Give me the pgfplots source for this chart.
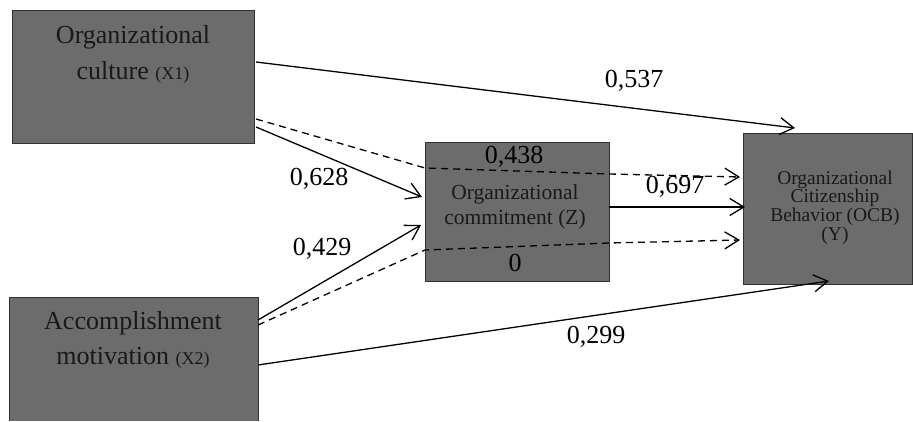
\documentclass[border=0pt]{standalone}
\usepackage{pgfplots}
\pgfplotsset{compat=1.18}
\usetikzlibrary{arrows.meta}
\usepackage{fontspec}
\setmainfont{Liberation Serif}
\definecolor{boxgray}{RGB}{108,108,108}
\definecolor{boxedge}{RGB}{50,50,50}
\definecolor{boxtext}{RGB}{25,25,25}
\tikzset{
  big/.style={font=\fontsize{26}{28}\selectfont},
  mid/.style={font=\fontsize{21.5}{23}\selectfont, text=boxtext},
  sml/.style={font=\fontsize{19.5}{21}\selectfont, text=boxtext},
  arr/.style={line width=1.3pt, -{Straight Barb[length=14pt,width=17pt,line width=1.3pt]}},
  dsh/.style={arr, dash pattern=on 7pt off 5pt},
}
\begin{document}
\begin{tikzpicture}
\begin{axis}[
  width=913pt, height=421pt, scale only axis,
  xmin=0, xmax=913, ymin=0, ymax=421,
  hide axis,
]
\addplot[draw=none] coordinates {(0,0) (913,421)};
% boxes
\addplot[fill=boxgray, draw=boxedge, line width=0.8pt] coordinates {(12,278) (254,278) (254,411) (12,411)} -- cycle;
\addplot[fill=boxgray, draw=none] coordinates {(9,0) (258,0) (258,124) (9,124)} -- cycle;
\addplot[draw=boxedge, line width=0.8pt] coordinates {(9,0) (9,124) (258,124) (258,0)};
\addplot[fill=boxgray, draw=boxedge, line width=0.8pt] coordinates {(425,140) (609,140) (609,279) (425,279)} -- cycle;
\addplot[fill=boxgray, draw=boxedge, line width=0.8pt] coordinates {(743,137) (912.6,137) (912.6,288) (743,288)} -- cycle;
% paths
\addplot[arr] coordinates {(256,359) (795,293)};
\addplot[dsh] coordinates {(256,302) (425,253) (609,247) (740,244)};
\addplot[arr] coordinates {(256,294) (422,224)};
\addplot[arr] coordinates {(258,101) (421,196)};
\addplot[dsh] coordinates {(258,96) (425,171) (609,178) (740,181)};
\addplot[arr] coordinates {(609,214) (745,214)};
\addplot[arr] coordinates {(258,56) (829,140)};
% box texts
\node[big, text=boxtext] at (axis cs:133,384) {Organizational};
\node[big, text=boxtext] at (axis cs:133,349) {culture {\fontsize{18}{20}\selectfont(X1)}};
\node[big, text=boxtext] at (axis cs:133,98) {Accomplishment};
\node[big, text=boxtext] at (axis cs:133,63) {motivation {\fontsize{18}{20}\selectfont(X2)}};
\node[mid] at (axis cs:515,227) {Organizational};
\node[mid] at (axis cs:515,202) {commitment (Z)};
\node[sml] at (axis cs:835,241) {Organizational};
\node[sml] at (axis cs:835,223) {Citizenship};
\node[sml] at (axis cs:835,204) {Behavior (OCB)};
\node[sml] at (axis cs:835,185) {(Y)};
% coefficients
\node[big] at (axis cs:634,340) {0,537};
\node[big] at (axis cs:514,264) {0,438};
\node[big] at (axis cs:319,242) {0,628};
\node[big] at (axis cs:322,172) {0,429};
\node[big] at (axis cs:675,234) {0,697};
\node[big] at (axis cs:596,84) {0,299};
\node[big] at (axis cs:515,158) {0};
\end{axis}
\end{tikzpicture}
\end{document}
